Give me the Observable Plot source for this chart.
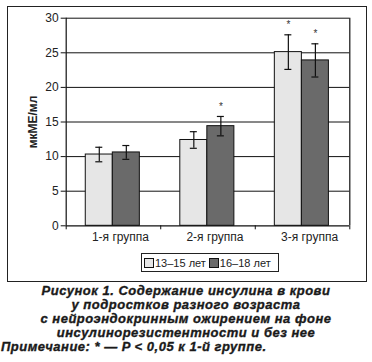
<!DOCTYPE html>
<html>
<head>
<meta charset="utf-8">
<script src="https://cdn.jsdelivr.net/npm/d3@7"></script>
<script src="https://cdn.jsdelivr.net/npm/@observablehq/plot@0.6"></script>
<style>
  html, body { margin: 0; padding: 0; background: #fff; }
  body { width: 372px; height: 362px; position: relative; overflow: hidden; font-family: "Liberation Sans", Arial, sans-serif; }
  #chart { position: absolute; left: 0; top: 0; }
  #outer { position: absolute; left: 7px; top: 6px; width: 360px; height: 276px; border: 1.5px solid #222; box-sizing: border-box; pointer-events: none; }
  #legend { position: absolute; left: 141px; top: 253px; width: 138px; height: 19px; border: 1px solid #222; box-sizing: border-box; font-size: 11px; color: #222; display: flex; align-items: center; padding-left: 2px; white-space: nowrap; }
  #legend .sw { display: inline-block; width: 8px; height: 8px; border: 1px solid #111; margin-right: 1px; }
  #legend .it { display: inline-flex; align-items: center; margin-right: 3px; }
  .cap { position: absolute; left: 0; width: 372px; font-weight: bold; font-style: italic; font-size: 13px; letter-spacing: 0.5px; color: #1a1a1a; -webkit-text-stroke: 0.35px #1a1a1a; white-space: nowrap; line-height: 14px; }
  .cap.c { text-align: center; }
</style>
</head>
<body>
<div id="chart"></div>
<div id="outer"></div>
<div id="legend"></div>
<div id="caption"></div>
<script>
const groups = ["1-я группа", "2-я группа", "3-я группа"];
const series = ["13–15 лет", "16–18 лет"];
const colors = ["#e6e6e6", "#6a6a6a"];
const means13 = [10.3, 12.4, 25.1];
const means16 = [10.6, 14.4, 23.9];
const errs13 = [1.05, 1.2, 2.5];
const errs16 = [1.0, 1.4, 2.4];
const sig13 = [false, false, true];
const sig16 = [false, true, true];
const yTicks = [0, 5, 10, 15, 20, 25, 30];
const yLabel = "мкМЕ/мл";
const captionLines = [
  "Рисунок 1. Содержание инсулина в крови",
  "у подростков разного возраста",
  "с нейроэндокринным ожирением на фоне",
  "инсулинорезистентности и без нее"
];
const note = "Примечание: * — P < 0,05 к 1-й группе.";

const barStart = 0.207, barW = 0.286, capHalf = 0.037, labelOffset = 0.574;

const rows = groups.flatMap((g, i) => [
  {g, i, s: 0, v: means13[i], e: errs13[i], sig: sig13[i]},
  {g, i, s: 1, v: means16[i], e: errs16[i], sig: sig16[i]}
]);
const x1 = d => d.i + barStart + d.s * barW;
const cx = d => x1(d) + barW / 2;

const plot = Plot.plot({
  width: 372,
  height: 282,
  marginLeft: 65.7,
  marginRight: 22.7,
  marginTop: 17.7,
  marginBottom: 56.7,
  x: {domain: [0, 3]},
  y: {domain: [0, 30]},
  color: {domain: series, range: colors},
  style: {fontFamily: "'Liberation Sans', Arial, sans-serif", fontSize: "12px", color: "#222", background: "transparent"},
  marks: [
    Plot.ruleY(yTicks.filter(t => t > 0), {stroke: "#111", strokeWidth: 1}),
    Plot.rectY(rows, {x1: x1, x2: d => x1(d) + barW, y1: 0, y2: "v", fill: d => series[d.s], stroke: "#111", strokeWidth: 1}),
    Plot.ruleX(rows, {x: cx, y1: d => d.v - d.e, y2: d => d.v + d.e, stroke: "#111", strokeWidth: 1.2}),
    Plot.ruleY(rows.flatMap(d => [{d, y: d.v - d.e}, {d, y: d.v + d.e}]), {y: "y", x1: o => cx(o.d) - capHalf, x2: o => cx(o.d) + capHalf, stroke: "#111", strokeWidth: 1.2}),
    Plot.text(rows.filter(d => d.sig), {x: cx, y: d => d.v + d.e, text: () => "*", dy: -10, fontSize: 10, fill: "#333"}),
    Plot.ruleY([0], {stroke: "#111", strokeWidth: 1.2}),
    Plot.ruleX([0, 3], {y1: 0, y2: 30, stroke: "#111", strokeWidth: 1.2}),
    Plot.axisY({ticks: yTicks, tickSize: 5, tickPadding: 2.5, label: null, fontSize: 12, stroke: "#111"}),
    Plot.axisX({ticks: [0, 1, 2, 3], tickSize: 4, tickFormat: () => "", label: null, stroke: "#111"}),
    Plot.text(groups, {x: (d, i) => i + labelOffset, y: 0, dy: 11.5, text: d => d, fontSize: 12, fill: "#222"}),
    Plot.text([yLabel], {frameAnchor: "left", dx: -33, rotate: -90, textAnchor: "middle", text: d => d, fontWeight: "bold", fontSize: 12, fill: "#222"})
  ]
});
document.getElementById("chart").appendChild(plot);

const legend = document.getElementById("legend");
series.forEach((s, k) => {
  const it = document.createElement("span");
  it.className = "it";
  const sw = document.createElement("span");
  sw.className = "sw";
  sw.style.background = colors[k];
  it.appendChild(sw);
  it.appendChild(document.createTextNode(s));
  legend.appendChild(it);
});

const cap = document.getElementById("caption");
const tops = [283.5, 297.8, 312.3, 325.8];
captionLines.forEach((t, k) => {
  const el = document.createElement("div");
  el.className = "cap c";
  el.style.top = tops[k] + "px";
  el.textContent = t;
  cap.appendChild(el);
});
const n = document.createElement("div");
n.className = "cap";
n.style.top = "340.2px";
n.style.left = "1px";
n.textContent = note;
cap.appendChild(n);
</script>
</body>
</html>
